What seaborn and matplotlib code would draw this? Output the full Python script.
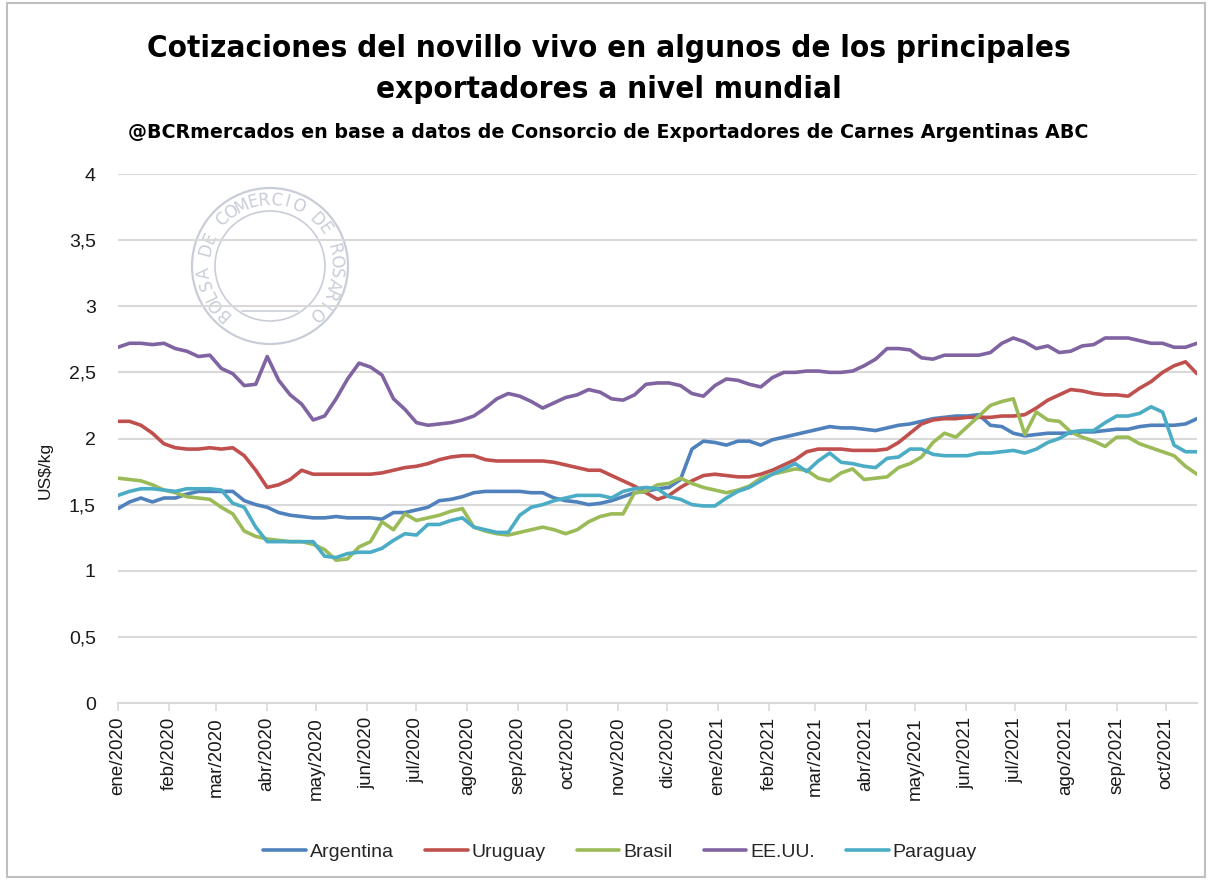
import numpy as np
import pandas as pd
import matplotlib
matplotlib.use("Agg")
import matplotlib.pyplot as plt
import matplotlib.ticker as mticker
from matplotlib.patches import Circle, Rectangle
import seaborn as sns

# ---------------- data ----------------
first_week = "2020-01-03"
n_weeks = 95
series_names = ["Argentina", "Uruguay", "Brasil", "EE.UU.", "Paraguay"]

argentina = [1.47, 1.52, 1.55, 1.52, 1.55, 1.55, 1.58, 1.60, 1.60, 1.60, 1.60, 1.53, 1.50, 1.48, 1.44, 1.42,
             1.41, 1.40, 1.40, 1.41, 1.40, 1.40, 1.40, 1.39, 1.44, 1.44, 1.46, 1.48, 1.53, 1.54, 1.56, 1.59,
             1.60, 1.60, 1.60, 1.60, 1.59, 1.59, 1.55, 1.53, 1.52, 1.50, 1.51, 1.53, 1.56, 1.59, 1.60, 1.62,
             1.63, 1.69, 1.92, 1.98, 1.97, 1.95, 1.98, 1.98, 1.95, 1.99, 2.01, 2.03, 2.05, 2.07, 2.09,
             2.08, 2.08, 2.07, 2.06, 2.08, 2.10, 2.11, 2.13, 2.15, 2.16, 2.17, 2.17, 2.18, 2.10, 2.09, 2.04,
             2.02, 2.03, 2.04, 2.04, 2.04, 2.05, 2.05, 2.06, 2.07, 2.07, 2.09, 2.10, 2.10, 2.10, 2.11, 2.15]

uruguay = [2.13, 2.13, 2.10, 2.04, 1.96, 1.93, 1.92, 1.92, 1.93, 1.92, 1.93, 1.87, 1.76, 1.63, 1.65, 1.69,
           1.76, 1.73, 1.73, 1.73, 1.73, 1.73, 1.73, 1.74, 1.76, 1.78, 1.79, 1.81, 1.84, 1.86, 1.87, 1.87,
           1.84, 1.83, 1.83, 1.83, 1.83, 1.83, 1.82, 1.80, 1.78, 1.76, 1.76, 1.72, 1.68, 1.64, 1.59, 1.54,
           1.57, 1.63, 1.68, 1.72, 1.73, 1.72, 1.71, 1.71, 1.73, 1.76, 1.80, 1.84, 1.90, 1.92, 1.92,
           1.92, 1.91, 1.91, 1.91, 1.92, 1.97, 2.04, 2.11, 2.14, 2.15, 2.15, 2.16, 2.16, 2.16, 2.17, 2.17,
           2.18, 2.23, 2.29, 2.33, 2.37, 2.36, 2.34, 2.33, 2.33, 2.32, 2.38, 2.43, 2.50, 2.55, 2.58, 2.49]

brasil = [1.70, 1.69, 1.68, 1.65, 1.61, 1.59, 1.56, 1.55, 1.54, 1.48, 1.43, 1.30, 1.26, 1.24, 1.23, 1.22,
          1.22, 1.20, 1.16, 1.08, 1.09, 1.18, 1.22, 1.37, 1.31, 1.43, 1.38, 1.40, 1.42, 1.45, 1.47, 1.33,
          1.30, 1.28, 1.27, 1.29, 1.31, 1.33, 1.31, 1.28, 1.31, 1.37, 1.41, 1.43, 1.43, 1.59, 1.60, 1.65,
          1.66, 1.70, 1.66, 1.63, 1.61, 1.59, 1.61, 1.64, 1.70, 1.73, 1.75, 1.77, 1.76, 1.70, 1.68,
          1.74, 1.77, 1.69, 1.70, 1.71, 1.78, 1.81, 1.86, 1.97, 2.04, 2.01, 2.09, 2.17, 2.25, 2.28, 2.30,
          2.03, 2.20, 2.14, 2.13, 2.05, 2.01, 1.98, 1.94, 2.01, 2.01, 1.96, 1.93, 1.90, 1.87, 1.79, 1.73]

eeuu = [2.69, 2.72, 2.72, 2.71, 2.72, 2.68, 2.66, 2.62, 2.63, 2.53, 2.49, 2.40, 2.41, 2.62, 2.44, 2.33,
        2.26, 2.14, 2.17, 2.30, 2.45, 2.57, 2.54, 2.48, 2.30, 2.22, 2.12, 2.10, 2.11, 2.12, 2.14, 2.17,
        2.23, 2.30, 2.34, 2.32, 2.28, 2.23, 2.27, 2.31, 2.33, 2.37, 2.35, 2.30, 2.29, 2.33, 2.41, 2.42,
        2.42, 2.40, 2.34, 2.32, 2.40, 2.45, 2.44, 2.41, 2.39, 2.46, 2.50, 2.50, 2.51, 2.51, 2.50,
        2.50, 2.51, 2.55, 2.60, 2.68, 2.68, 2.67, 2.61, 2.60, 2.63, 2.63, 2.63, 2.63, 2.65, 2.72, 2.76,
        2.73, 2.68, 2.70, 2.65, 2.66, 2.70, 2.71, 2.76, 2.76, 2.76, 2.74, 2.72, 2.72, 2.69, 2.69, 2.72]

paraguay = [1.57, 1.60, 1.62, 1.62, 1.61, 1.60, 1.62, 1.62, 1.62, 1.61, 1.51, 1.48, 1.33, 1.22, 1.22, 1.22,
            1.22, 1.22, 1.11, 1.10, 1.13, 1.14, 1.14, 1.17, 1.23, 1.28, 1.27, 1.35, 1.35, 1.38, 1.40, 1.33,
            1.31, 1.29, 1.29, 1.42, 1.48, 1.50, 1.53, 1.55, 1.57, 1.57, 1.57, 1.55, 1.60, 1.62, 1.63, 1.62,
            1.56, 1.54, 1.50, 1.49, 1.49, 1.55, 1.60, 1.63, 1.68, 1.73, 1.77, 1.81, 1.75, 1.83, 1.89,
            1.82, 1.81, 1.79, 1.78, 1.85, 1.86, 1.92, 1.92, 1.88, 1.87, 1.87, 1.87, 1.89, 1.89, 1.90, 1.91,
            1.89, 1.92, 1.97, 2.00, 2.05, 2.06, 2.06, 2.12, 2.17, 2.17, 2.19, 2.24, 2.20, 1.95, 1.90, 1.90]

month_labels = ["ene/2020", "feb/2020", "mar/2020", "abr/2020", "may/2020", "jun/2020", "jul/2020",
                "ago/2020", "sep/2020", "oct/2020", "nov/2020", "dic/2020", "ene/2021", "feb/2021",
                "mar/2021", "abr/2021", "may/2021", "jun/2021", "jul/2021", "ago/2021", "sep/2021",
                "oct/2021"]
y_ticks = [0, 0.5, 1, 1.5, 2, 2.5, 3, 3.5, 4]

title = "Cotizaciones del novillo vivo en algunos de los principales\nexportadores a nivel mundial"
subtitle = "@BCRmercados en base a datos de Consorcio de Exportadores de Carnes Argentinas ABC"

colors = {"Argentina": "#4F81BD", "Uruguay": "#C0504D", "Brasil": "#9BBB59",
          "EE.UU.": "#8064A2", "Paraguay": "#4BACC6"}

# ---------------- frame ----------------
dates = pd.date_range(first_week, periods=n_weeks, freq="7D")
values = [argentina, uruguay, brasil, eeuu, paraguay]
df = pd.concat([pd.DataFrame({"fecha": dates, "valor": v, "pais": n})
                for n, v in zip(series_names, values)], ignore_index=True)

sns.set_theme(style="white")
plt.rcParams["font.family"] = ["Liberation Sans", "DejaVu Sans"]

W, H = 1211, 880
fig = plt.figure(figsize=(W / 100, H / 100), dpi=100)
fig.patch.set_facecolor("white")

# overlay axes in pixel coords (watermark + border)
ov = fig.add_axes([0, 0, 1, 1], zorder=0)
ov.set_xlim(0, W)
ov.set_ylim(H, 0)
ov.axis("off")
ov.add_patch(Rectangle((7, 3), 1198, 874, fill=False, ec="#BFBFBF", lw=1.5))

# watermark seal
cx, cy = 270, 266
wm = "#C9CDD8"
ov.add_patch(Circle((cx, cy), 78, fill=False, ec=wm, lw=1.6))
ov.add_patch(Circle((cx, cy), 55, fill=False, ec=wm, lw=1.2))
seal_text = "BOLSA DE COMERCIO DE ROSARIO"
angles = np.linspace(-136, 136, len(seal_text))
for ch, th in zip(seal_text, angles):
    t = np.deg2rad(th)
    ov.text(cx + 66 * np.sin(t), cy - 66 * np.cos(t), ch, rotation=-th,
            ha="center", va="center", fontsize=12, color=wm, family="DejaVu Sans")
ov.plot([cx - 28, cx + 28], [cy + 45, cy + 45], color=wm, lw=1.2)

ax = fig.add_axes([118 / W, 1 - 703 / H, (1197 - 118) / W, (703 - 174) / H], zorder=1)
ax.set_facecolor("none")

sns.lineplot(data=df, x="fecha", y="valor", hue="pais", hue_order=series_names,
             palette=colors, linewidth=2.6, ax=ax, legend=True)

ax.set_ylim(0, 4)
ax.set_yticks(y_ticks)
ax.yaxis.set_major_formatter(mticker.FuncFormatter(
    lambda v, p: ("%g" % v).replace(".", ",")))
ax.grid(axis="y", color="#D9D9D9", lw=1.5)
ax.grid(axis="x", visible=False)
ax.set_axisbelow(True)

tick_dates = pd.date_range(first_week, periods=len(month_labels), freq=pd.DateOffset(months=1))
ax.set_xticks(tick_dates)
ax.set_xticklabels(month_labels, rotation=90, fontsize=13.5, color="#1A1A1A")
ax.set_xlim(dates[0], dates[-1])

for s in ["top", "right", "left"]:
    ax.spines[s].set_visible(False)
ax.spines["bottom"].set_color("#D9D9D9")
ax.spines["bottom"].set_linewidth(1.5)
ax.tick_params(axis="x", length=6, width=1.2, color="#D9D9D9", pad=4, bottom=True)
ax.tick_params(axis="y", length=0, pad=16, labelsize=14, labelcolor="#1A1A1A")

ax.set_xlabel("")
ax.set_ylabel("")
fig.text(45 / W, 1 - 470 / H, "US$/kg", rotation=90, ha="center", va="center",
         fontsize=12.5, color="#1A1A1A")

handles, labels = ax.get_legend_handles_labels()
ax.legend_.remove()
fig.legend(handles, labels, loc="center", bbox_to_anchor=(0.512, 1 - 852 / H), ncol=5,
           frameon=False, fontsize=14, handlelength=2.2, handletextpad=0.2,
           columnspacing=1.6)

fig.text(0.503, 1 - 69 / H, title, ha="center", va="center", fontsize=22.5,
         fontweight="bold", family="DejaVu Sans", fontstretch="condensed",
         linespacing=1.55, color="#000000")
fig.text(0.502, 1 - 133 / H, subtitle, ha="center", va="center", fontsize=13.7,
         fontweight="bold", family="DejaVu Sans", color="#000000")

fig.savefig("out.png", dpi=100, facecolor="white")
